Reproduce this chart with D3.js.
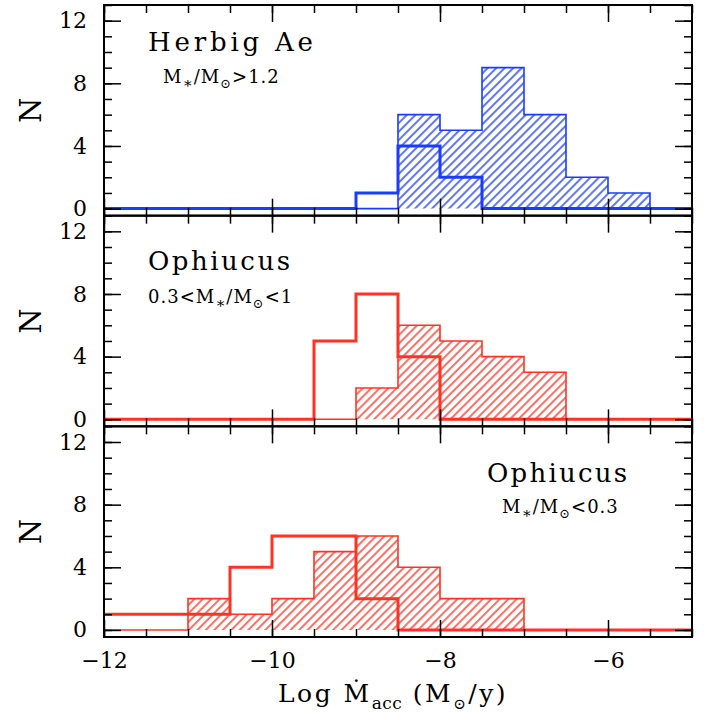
<!DOCTYPE html>
<html>
<head>
<meta charset="utf-8">
<script src="https://cdn.jsdelivr.net/npm/d3@7"></script>
<style>
  body { margin: 0; background: #fff; }
  text { font-family: "DejaVu Serif", "Liberation Serif", serif; fill: #000; }
</style>
</head>
<body>
<svg width="715" height="720"></svg>
<script>
// bin edges (log Mdot), 0.5 dex bins
var binEdges = [-12, -11.5, -11, -10.5, -10, -9.5, -9, -8.5, -8, -7.5, -7, -6.5, -6, -5.5, -5];

// counts per bin
var herbigOpen    = [0, 0, 0, 0, 0, 0, 1, 4, 2, 0, 0, 0, 0, 0];
var herbigHatched = [0, 0, 0, 0, 0, 0, 0, 6, 5, 9, 6, 2, 1, 0];
var ophMidOpen    = [0, 0, 0, 0, 0, 5, 8, 4, 0, 0, 0, 0, 0, 0];
var ophMidHatched = [0, 0, 0, 0, 0, 0, 2, 6, 5, 4, 3, 0, 0, 0];
var ophLowOpen    = [1, 1, 1, 4, 6, 6, 2, 0, 0, 0, 0, 0, 0, 0];
var ophLowHatched = [0, 0, 2, 1, 2, 5, 6, 4, 2, 2, 0, 0, 0, 0];

var xMajor = [-12, -10, -8, -6];
var yMajor = [0, 4, 8, 12];

var blue = "#1a3cff", red = "#ff3322";

var svg = d3.select("svg"),
    frame = {left: 104, right: 692, top: 5, bottom: 637},
    panelH = (frame.bottom - frame.top) / 3;

var x = d3.scaleLinear().domain([-12, -5]).range([frame.left, frame.right]);

var defs = svg.append("defs");
[["hatch-blue", blue], ["hatch-red", red]].forEach(function(h) {
  defs.append("pattern")
      .attr("id", h[0])
      .attr("patternUnits", "userSpaceOnUse")
      .attr("width", 6).attr("height", 6)
      .attr("patternTransform", "rotate(45)")
    .append("line")
      .attr("x1", 3).attr("y1", 0).attr("x2", 3).attr("y2", 6)
      .attr("stroke", h[1]).attr("stroke-width", 1.4);
});

function steps(counts) {
  return counts.map(function(c, i) { return [binEdges[i], c]; })
    .concat([[binEdges[binEdges.length - 1], counts[counts.length - 1]]]);
}

function addAxis(axis, tx, ty) {
  var a = svg.append("g").attr("transform", "translate(" + tx + "," + ty + ")").call(axis);
  a.select(".domain").remove();
  a.selectAll("line").attr("stroke-width", 1.5);
  a.selectAll("text").attr("font-size", 22).attr("font-family", null);
  return a;
}

var panels = [
  {open: herbigOpen, hatched: herbigHatched, color: blue, hatch: "hatch-blue"},
  {open: ophMidOpen, hatched: ophMidHatched, color: red, hatch: "hatch-red"},
  {open: ophLowOpen, hatched: ophLowHatched, color: red, hatch: "hatch-red"}
];

panels.forEach(function(p, k) {
  var y0 = frame.top + k * panelH, y1 = y0 + panelH;
  var y = d3.scaleLinear().domain([-0.45, 13]).range([y1, y0]);

  var area = d3.area()
      .x(function(d) { return x(d[0]); })
      .y0(y(0))
      .y1(function(d) { return y(d[1]); })
      .curve(d3.curveStepAfter);
  var line = d3.line()
      .x(function(d) { return x(d[0]); })
      .y(function(d) { return y(d[1]); })
      .curve(d3.curveStepAfter);

  var g = svg.append("g");

  g.append("path").datum(steps(p.hatched))
      .attr("d", area)
      .attr("fill", "url(#" + p.hatch + ")");
  g.append("path").datum(steps(p.hatched))
      .attr("d", line)
      .attr("fill", "none")
      .attr("stroke", p.color)
      .attr("stroke-width", 1.6);
  g.append("path").datum(steps(p.open))
      .attr("d", line)
      .attr("fill", "none")
      .attr("stroke", p.color)
      .attr("stroke-width", 3);

  // ticks on all four sides
  var minorX = binEdges, minorY = d3.range(0, 14, 1);
  addAxis(d3.axisBottom(x).tickValues(minorX).tickSize(-8).tickFormat(""), 0, y1);
  addAxis(d3.axisTop(x).tickValues(minorX).tickSize(-8).tickFormat(""), 0, y0);
  addAxis(d3.axisTop(x).tickValues(xMajor).tickSize(-17).tickFormat(""), 0, y0);
  addAxis(d3.axisBottom(x).tickValues(xMajor).tickSize(-17).tickPadding(15)
      .tickFormat(k === 2 ? function(d) { return "\u2212" + Math.abs(d); } : ""), 0, y1);

  addAxis(d3.axisLeft(y).tickValues(minorY).tickSize(-8).tickFormat(""), frame.left, 0);
  addAxis(d3.axisRight(y).tickValues(minorY).tickSize(-8).tickFormat(""), frame.right, 0);
  addAxis(d3.axisRight(y).tickValues(yMajor).tickSize(-17).tickFormat(""), frame.right, 0);
  addAxis(d3.axisLeft(y).tickValues(yMajor).tickSize(-17).tickPadding(17), frame.left, 0);

  svg.append("rect")
      .attr("x", frame.left).attr("y", y0)
      .attr("width", frame.right - frame.left).attr("height", panelH)
      .attr("fill", "none").attr("stroke", "#000").attr("stroke-width", 2);

  svg.append("text")
      .attr("transform", "translate(41," + (y0 + panelH / 2) + ") rotate(-90)")
      .attr("text-anchor", "middle")
      .attr("font-size", 29)
      .text("N");
});

// panel labels
function massLabel(xp, yp, pre, post) {
  var t = svg.append("text").attr("x", xp).attr("y", yp).attr("font-size", 18).attr("letter-spacing", 1);
  t.append("tspan").text(pre + "M");
  t.append("tspan").attr("dy", 5).attr("font-size", 15).text("\u2217");
  t.append("tspan").attr("dy", -5).text("/M");
  t.append("tspan").attr("dy", 5).attr("font-size", 13).text("\u2299");
  t.append("tspan").attr("dy", -5).text(post);
}
function title(xp, yp, s, len) {
  svg.append("text").attr("x", xp).attr("y", yp)
      .attr("font-size", 26)
      .attr("textLength", len).attr("lengthAdjust", "spacing")
      .text(s);
}
title(148, 51, "Herbig Ae", 165);
massLabel(163, 83, "", ">1.2");
title(148, 270, "Ophiucus", 142);
massLabel(148, 303, "0.3<", "<1");
title(487, 482, "Ophiucus", 140);
massLabel(502, 513, "", "<0.3");

// x axis title
var xt = svg.append("text").attr("x", 278).attr("y", 702).attr("font-size", 25).attr("letter-spacing", 2.5);
xt.append("tspan").text("Log \u1E40");
xt.append("tspan").attr("dy", 7).attr("font-size", 17).attr("letter-spacing", 0.5).text("acc");
xt.append("tspan").attr("dy", -7).text(" (M");
xt.append("tspan").attr("dy", 7).attr("font-size", 15).text("\u2299");
xt.append("tspan").attr("dy", -7).text("/y)");
</script>
</body>
</html>
